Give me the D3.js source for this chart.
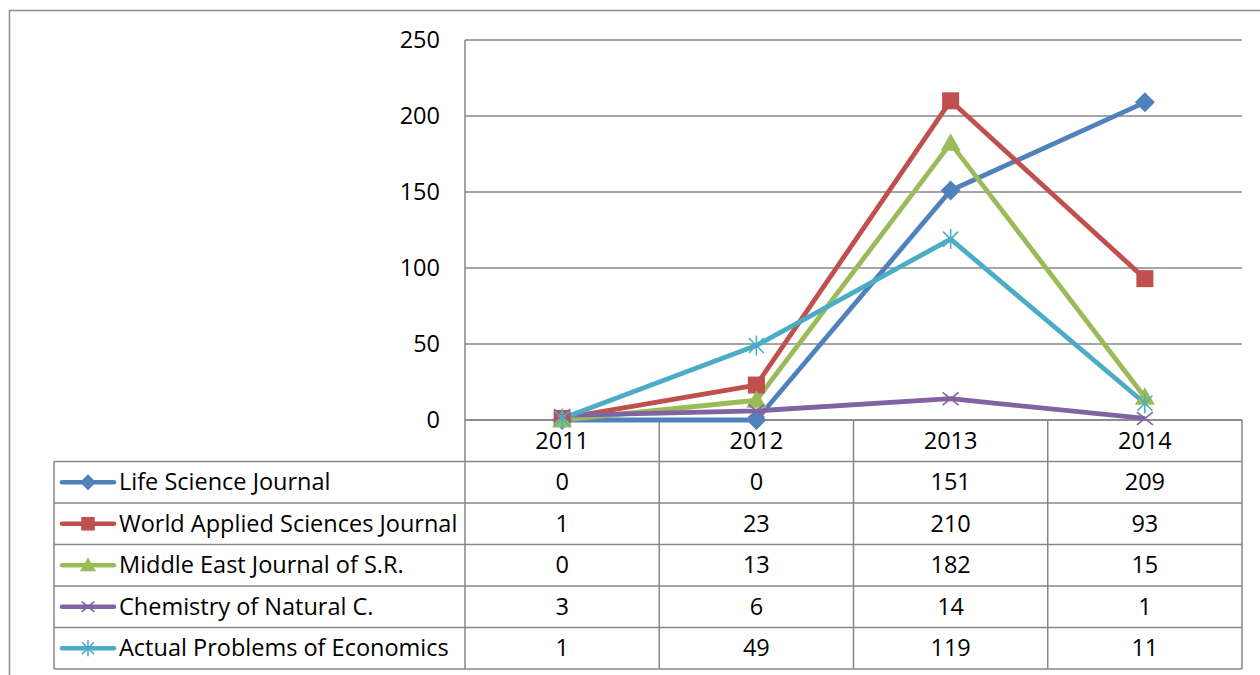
<!DOCTYPE html>
<html>
<head>
<meta charset="utf-8">
<script src="https://cdn.jsdelivr.net/npm/d3@7"></script>
<style>
  body { margin: 0; background: #fff; }
  svg text { font-family: "Open Sans", sans-serif; fill: #000; }
</style>
</head>
<body>
<svg id="chart" width="1260" height="675"></svg>
<script>
// data
const years = ["2011", "2012", "2013", "2014"];
const seriesNames = ["Life Science Journal", "World Applied Sciences Journal",
  "Middle East Journal of S.R.", "Chemistry of Natural C.", "Actual Problems of Economics"];
const lifeScience = [0, 0, 151, 209];
const worldApplied = [1, 23, 210, 93];
const middleEast = [0, 13, 182, 15];
const chemistry = [3, 6, 14, 1];
const actualProblems = [1, 49, 119, 11];
const yTicks = [0, 50, 100, 150, 200, 250];

const colors = ["#4F81BD", "#C0504D", "#9BBB59", "#8064A2", "#4BACC6"];
const symbols = ["diamond", "square", "triangle", "x", "star"];
const series = [lifeScience, worldApplied, middleEast, chemistry, actualProblems]
  .map((v, i) => ({ name: seriesNames[i], values: v, color: colors[i], sym: symbols[i] }));

const svg = d3.select("#chart");
const fontSize = "23.5px";

// outer chart border
svg.append("rect")
  .attr("x", 9.5).attr("y", 10.5).attr("width", 1300).attr("height", 700)
  .attr("fill", "none").attr("stroke", "#8c8c8c").attr("stroke-width", 1.5);

const plotLeft = 465, plotRight = 1242, plotTop = 40, plotBottom = 420;
const tableLeft = 54, rowH = 41.5;

const x = d3.scaleBand().domain(years).range([plotLeft, plotRight]);
const y = d3.scaleLinear().domain([0, 250]).range([plotBottom, plotTop]);
const cx = d => x(d) + x.bandwidth() / 2;

// gridlines
svg.append("g").selectAll("line").data(yTicks).join("line")
  .attr("x1", plotLeft).attr("x2", plotRight)
  .attr("y1", d => y(d)).attr("y2", d => y(d))
  .attr("stroke", "#878787").attr("stroke-width", 1.5);

svg.append("line")
  .attr("x1", plotLeft).attr("x2", plotLeft)
  .attr("y1", plotTop).attr("y2", plotBottom)
  .attr("stroke", "#878787").attr("stroke-width", 1.5);

// y axis labels
svg.append("g").selectAll("text").data(yTicks).join("text")
  .attr("x", 440).attr("y", d => y(d))
  .attr("dy", "0.35em").attr("text-anchor", "end")
  .style("font-size", fontSize)
  .text(d => d);

// table grid
const tableBottom = plotBottom + rowH * 6;
const rows = d3.scaleBand().domain(d3.range(6)).range([plotBottom, tableBottom]);
const tbl = svg.append("g").attr("stroke", "#878787").attr("stroke-width", 1.5).attr("fill", "none");
tbl.append("line").attr("x1", plotLeft).attr("x2", plotRight)
  .attr("y1", plotBottom).attr("y2", plotBottom);
d3.range(1, 7).forEach(r => {
  const ly = r < 6 ? rows(r) : tableBottom;
  tbl.append("line").attr("x1", tableLeft).attr("x2", plotRight).attr("y1", ly).attr("y2", ly);
});
tbl.append("line").attr("x1", tableLeft).attr("x2", tableLeft)
  .attr("y1", rows(1)).attr("y2", tableBottom);
years.forEach(yr => {
  tbl.append("line").attr("x1", x(yr)).attr("x2", x(yr))
    .attr("y1", plotBottom).attr("y2", tableBottom);
});
tbl.append("line").attr("x1", plotRight).attr("x2", plotRight)
  .attr("y1", plotBottom).attr("y2", tableBottom);

// year header labels
svg.append("g").selectAll("text").data(years).join("text")
  .attr("x", d => cx(d)).attr("y", rows(0) + rowH / 2)
  .attr("dy", "0.35em").attr("text-anchor", "middle")
  .style("font-size", fontSize).text(d => d);

// marker drawing
function drawMarker(g, sym, color, px, py, s) {
  const h = s / 2;
  if (sym === "diamond") {
    g.append("path").attr("d", `M${px},${py - h}L${px + h},${py}L${px},${py + h}L${px - h},${py}Z`)
      .attr("fill", color);
  } else if (sym === "square") {
    const q = h * 0.85;
    g.append("rect").attr("x", px - q).attr("y", py - q)
      .attr("width", 2 * q).attr("height", 2 * q).attr("fill", color);
  } else if (sym === "triangle") {
    g.append("path").attr("d", `M${px},${py - h}L${px + h},${py + h * 0.75}L${px - h},${py + h * 0.75}Z`)
      .attr("fill", color);
  } else if (sym === "x") {
    const q = h * 0.8;
    g.append("path").attr("d", `M${px - q},${py - q * 0.8}L${px + q},${py + q * 0.8}M${px - q},${py + q * 0.8}L${px + q},${py - q * 0.8}`)
      .attr("fill", "none").attr("stroke", color).attr("stroke-width", 1.6);
  } else {
    const q = h * 0.75;
    g.append("path").attr("d", `M${px - q},${py - q}L${px + q},${py + q}M${px - q},${py + q}L${px + q},${py - q}M${px},${py - h}L${px},${py + h}`)
      .attr("fill", "none").attr("stroke", color).attr("stroke-width", 1.6);
  }
}

// lines
const line = d3.line().x((d, i) => cx(years[i])).y(d => y(d));
series.forEach(s => {
  svg.append("path").datum(s.values).attr("d", line)
    .attr("fill", "none").attr("stroke", s.color).attr("stroke-width", 4.8)
    .attr("stroke-linejoin", "round");
});
series.forEach(s => {
  const g = svg.append("g");
  s.values.forEach((v, i) => drawMarker(g, s.sym, s.color, cx(years[i]), y(v), 20));
});

// table body: legend keys, names and values
series.forEach((s, r) => {
  const ry = rows(r + 1) + rowH / 2;
  const g = svg.append("g");
  g.append("line").attr("x1", 62).attr("x2", 114).attr("y1", ry).attr("y2", ry)
    .attr("stroke", s.color).attr("stroke-width", 4.5).attr("stroke-linecap", "round");
  drawMarker(g, s.sym, s.color, 88, ry, 16);
  g.append("text").attr("x", 119).attr("y", ry).attr("dy", "0.35em")
    .style("font-size", fontSize).text(s.name);
  g.selectAll("text.v").data(s.values).join("text").attr("class", "v")
    .attr("x", (d, i) => cx(years[i])).attr("y", ry).attr("dy", "0.35em")
    .attr("text-anchor", "middle").style("font-size", fontSize).text(d => d);
});
</script>
</body>
</html>
